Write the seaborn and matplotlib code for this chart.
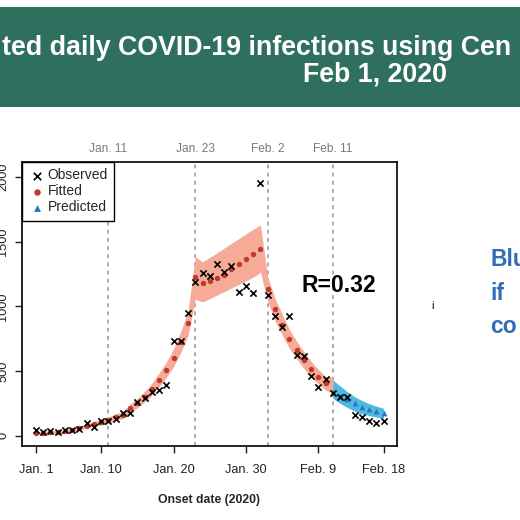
import matplotlib
matplotlib.use("Agg")
import matplotlib.pyplot as plt
import matplotlib.transforms as mtransforms
from matplotlib.patches import Rectangle
import seaborn as sns
import pandas as pd

# daily counts, day 0 = Jan 1
observed = [44, 26, 36, 26, 44, 44, 52, 96, 70, 114, 116, 132, 173, 173, 258, 289,
            336, 354, 390, 735, 735, 952, 1192, 1262, 1238, 1327, 1270, 1313, 1115,
            1159, 1102, 1953, 1089, 929, 844, 929, 628, 615, 462, 377, 442, 328, 302,
            302, 160, 142, 116, 96, 112]
fitted = [18, 22, 26, 26, 36, 44, 57, 77, 91, 104, 121, 142, 160, 212, 251, 302, 359,
          431, 508, 604, 723, 870, 1231, 1184, 1197, 1218, 1244, 1288, 1329, 1365,
          1406, 1445, 1135, 978, 860, 748, 663, 586, 516, 455, 405]
predicted = [340, 310, 280, 250, 225, 205, 190, 172]

fit_low = [8, 12, 15, 17, 24, 31, 42, 60, 72, 84, 98, 117, 133, 180, 215, 262, 313,
           378, 450, 535, 643, 775, 1056, 1035, 1060, 1088, 1115, 1143, 1170, 1198,
           1226, 1265, 1040, 890, 780, 675, 595, 520, 455, 400, 352, 330]
fit_high = [30, 34, 38, 40, 48, 57, 72, 94, 110, 125, 145, 168, 188, 245, 288, 342,
            405, 485, 568, 673, 805, 965, 1385, 1345, 1380, 1415, 1452, 1490, 1525,
            1562, 1598, 1631, 1230, 1065, 940, 822, 730, 650, 575, 512, 458, 455]
pred_low = [289, 250, 218, 190, 170, 155, 145, 135]
pred_high = [431, 385, 340, 302, 272, 248, 228, 212]

event_days = [10, 22, 32, 41]
event_labels = ["Jan. 11", "Jan. 23", "Feb. 2", "Feb. 11"]
tick_days = [0, 9, 19, 29, 39, 48]
tick_labels = ["Jan. 1", "Jan. 10", "Jan. 20", "Jan. 30", "Feb. 9", "Feb. 18"]
y_ticks = [0, 500, 1000, 1500, 2000]

obs_df = pd.DataFrame({"day": range(len(observed)), "count": observed})
fit_df = pd.DataFrame({"day": range(len(fitted)), "count": fitted})
pred_df = pd.DataFrame({"day": range(41, 41 + len(predicted)), "count": predicted})
fit_days = list(range(len(fit_low)))
pred_days = list(range(41, 41 + len(pred_low)))

sns.set_theme(style="ticks")
plt.rcParams['font.family'] = ['Liberation Sans', 'DejaVu Sans']

W = 520
fig = plt.figure(figsize=(5.2, 5.2), dpi=100)

# slide title band
fig.patches.append(Rectangle((0, 1 - 107 / W), 1, 100 / W, transform=fig.transFigure,
                             facecolor='#2f6f5e', edgecolor='none', zorder=0))
fig.text(2 / W, 1 - 55 / W, "ted daily COVID-19 infections using Cen", color='white',
         fontsize=19.3, fontweight='bold', ha='left', va='baseline')
fig.text(303 / W, 1 - 81.5 / W, "Feb 1, 2020", color='white',
         fontsize=19.3, fontweight='bold', ha='left', va='baseline')

# cut-off slide text on the right
for txt, yb in [("Blu", 266.5), ("if", 300), ("co", 333)]:
    fig.text(490 / W, 1 - yb / W, txt, color='#2f6db5', fontsize=16.5,
             fontweight='bold', ha='left', va='baseline')
fig.text(432 / W, 1 - 309 / W, "i", color='black', fontsize=8, ha='center', va='baseline')

ax = fig.add_axes([22 / W, 74 / W, 375 / W, 284 / W])

ax.fill_between(fit_days, fit_low, fit_high, color='#f5ab98', linewidth=0, zorder=1)
ax.fill_between(pred_days, pred_low, pred_high, color='#4fb9e4', linewidth=0, zorder=1)

for d in event_days:
    ax.axvline(d, color='#ababab', linestyle=(0, (2, 2.2)), linewidth=1.4, zorder=0)

sns.scatterplot(data=fit_df, x='day', y='count', color='#c0392b', s=15, linewidth=0,
                marker='o', ax=ax, label='Fitted', zorder=3)
sns.scatterplot(data=pred_df, x='day', y='count', color='#2a78b8', s=17, linewidth=0,
                marker='^', ax=ax, label='Predicted', zorder=3)
sns.scatterplot(data=obs_df, x='day', y='count', color='black', s=20, linewidth=1.2,
                marker='x', ax=ax, label='Observed', zorder=4)

ax.set_xlim(-1.93, 49.86)
ax.set_ylim(-80, 2118)
ax.set_xticks(tick_days)
ax.set_xticklabels(tick_labels)
ax.set_yticks(y_ticks)
ax.set_yticklabels([str(v) for v in y_ticks])
ax.tick_params(axis='x', length=5, width=1, pad=8, labelsize=9.2, colors='#222222')
ax.tick_params(axis='y', length=5, width=1, pad=4, labelsize=9.2, colors='#222222',
               labelrotation=90)
for t in ax.get_yticklabels():
    t.set_va('center')
ax.set_xlabel("Onset date (2020)", fontsize=8.8, fontweight='bold', labelpad=13)
ax.set_ylabel("")
for sp in ax.spines.values():
    sp.set_color('black')
    sp.set_linewidth(1.2)

trans = mtransforms.blended_transform_factory(ax.transData, ax.transAxes)
for d, lab in zip(event_days, event_labels):
    ax.text(d, 1.046, lab, transform=trans, ha='center', va='center',
            fontsize=8.6, color='#7a7a7a')

ax.text(0.746, 0.543, "R=0.32", transform=ax.transAxes, fontsize=16.5,
        fontweight='bold', color='black', ha='left', va='baseline')

handles, labels = ax.get_legend_handles_labels()
order = [labels.index(n) for n in ["Observed", "Fitted", "Predicted"]]
leg = ax.legend([handles[i] for i in order], [labels[i] for i in order],
                loc='upper left', bbox_to_anchor=(0, 1), borderaxespad=0,
                frameon=True, fancybox=False, edgecolor='black', framealpha=1,
                fontsize=10, handletextpad=0.2, handlelength=1.2,
                labelspacing=0.15, borderpad=0.45, markerscale=1.2)
leg.get_frame().set_linewidth(1.0)

fig.savefig("out.png", dpi=100, facecolor='white')
